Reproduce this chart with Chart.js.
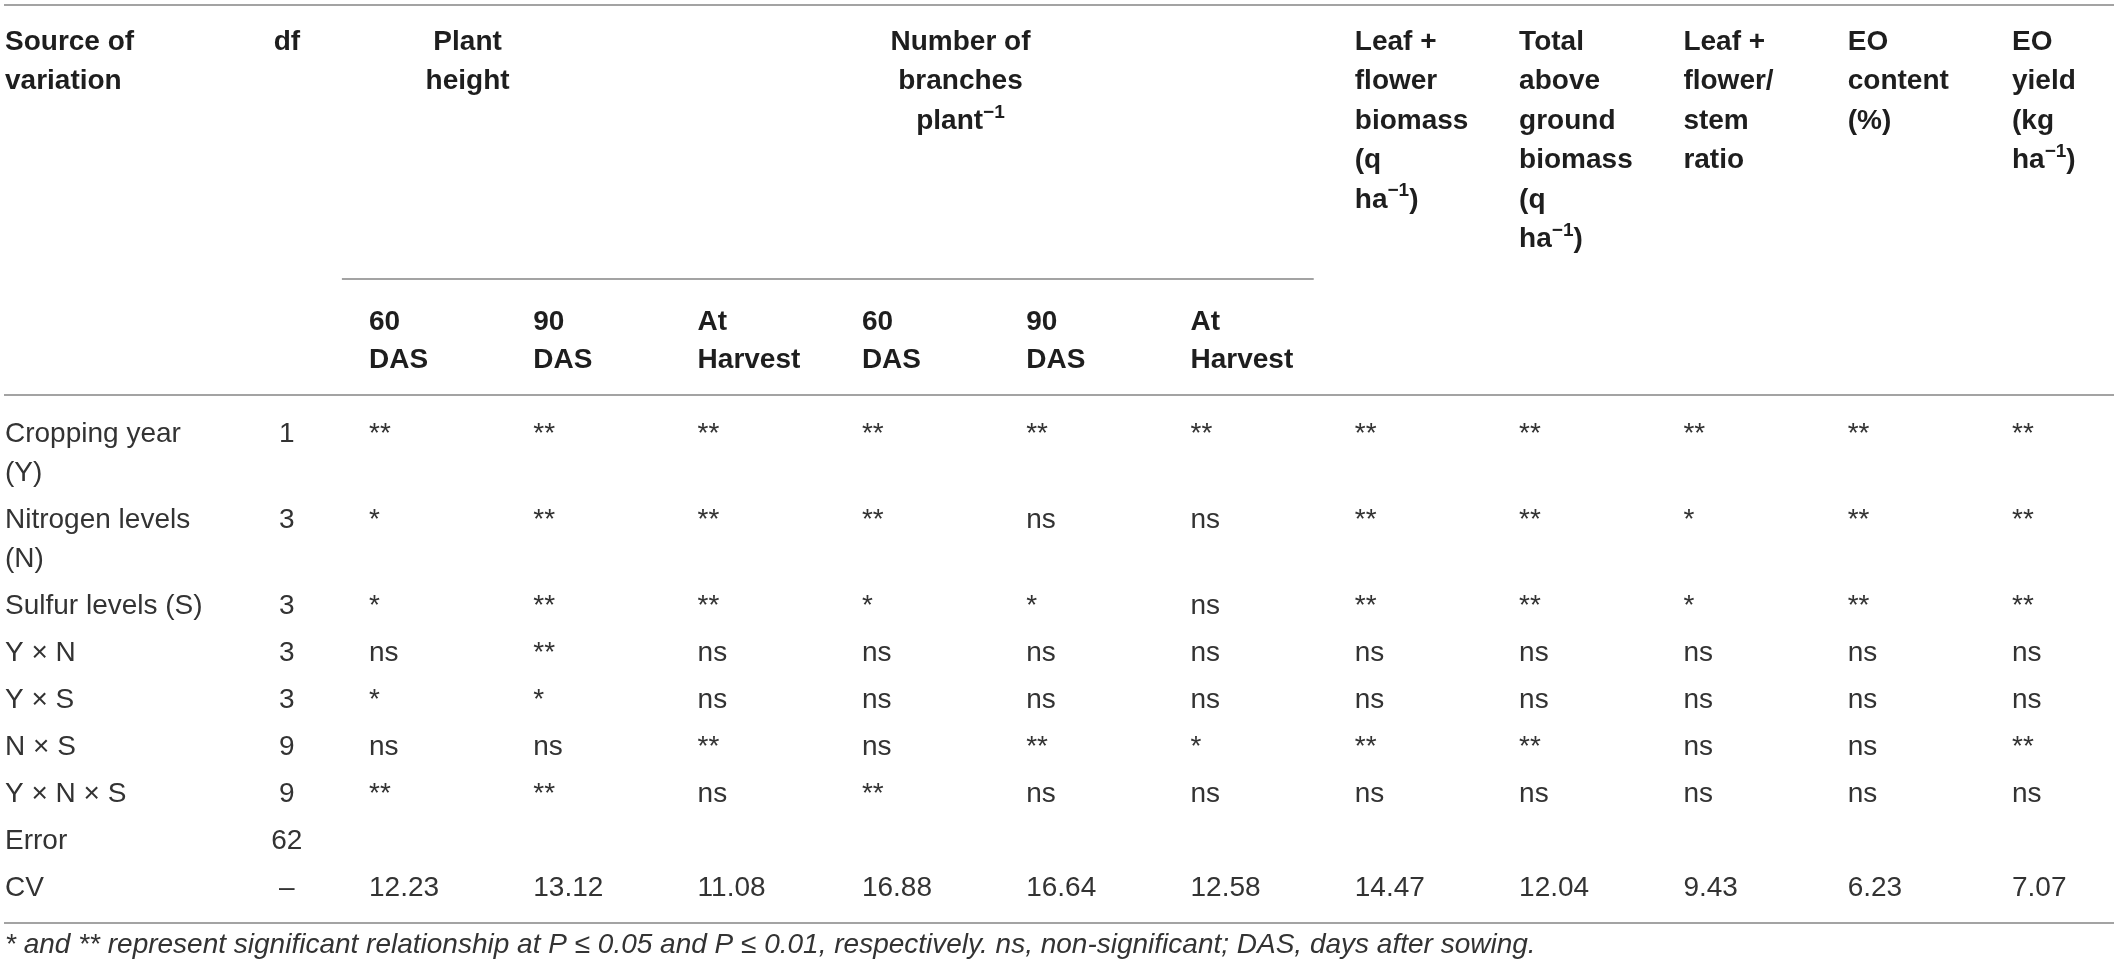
<!DOCTYPE html>
<html>
<head>
<meta charset="utf-8">
<script src="https://cdn.jsdelivr.net/npm/chart.js@4"></script>
<style>
  html, body { margin: 0; padding: 0; background: #fff; }
  #caixa { width: 2118px; height: 972px; position: relative; }
</style>
</head>
<body>
<div id="caixa"><canvas id="tabela"></canvas></div>
<script>
// linhas da tabela: fonte de variacao e graus de liberdade
var fontes = [['Cropping year', '(Y)'], ['Nitrogen levels', '(N)'], ['Sulfur levels (S)'], ['Y × N'], ['Y × S'], ['N × S'], ['Y × N × S'], ['Error'], ['CV']];
var gl = ['1', '3', '3', '3', '3', '9', '9', '62', '–'];

// cabecalhos ({...} = expoente)
var grupos = [['Plant', 'height'], ['Number of', 'branches', 'plant{−1}']];
var subColunas = [['60', 'DAS'], ['90', 'DAS'], ['At', 'Harvest'], ['60', 'DAS'], ['90', 'DAS'], ['At', 'Harvest']];
var outrasColunas = [
  ['Leaf +', 'flower', 'biomass', '(q', 'ha{−1})'],
  ['Total', 'above', 'ground', 'biomass', '(q', 'ha{−1})'],
  ['Leaf +', 'flower/', 'stem', 'ratio'],
  ['EO', 'content', '(%)'],
  ['EO', 'yield', '(kg', 'ha{−1})']
];

// significancia de cada fonte nas 11 variaveis
var anoY     = ['**', '**', '**', '**', '**', '**', '**', '**', '**', '**', '**'];
var nitrog   = ['*', '**', '**', '**', 'ns', 'ns', '**', '**', '*', '**', '**'];
var enxofre  = ['*', '**', '**', '*', '*', 'ns', '**', '**', '*', '**', '**'];
var yxn      = ['ns', '**', 'ns', 'ns', 'ns', 'ns', 'ns', 'ns', 'ns', 'ns', 'ns'];
var yxs      = ['*', '*', 'ns', 'ns', 'ns', 'ns', 'ns', 'ns', 'ns', 'ns', 'ns'];
var nxs      = ['ns', 'ns', '**', 'ns', '**', '*', '**', '**', 'ns', 'ns', '**'];
var yxnxs    = ['**', '**', 'ns', '**', 'ns', 'ns', 'ns', 'ns', 'ns', 'ns', 'ns'];
var erro     = [];
var cv       = [12.23, 13.12, 11.08, 16.88, 16.64, 12.58, 14.47, 12.04, 9.43, 6.23, 7.07];

var nota = '* and ** represent significant relationship at P ≤ 0.05 and P ≤ 0.01, respectively. ns, non-significant; DAS, days after sowing.';

var valores = [anoY, nitrog, enxofre, yxn, yxs, nxs, yxnxs, erro, cv.map(function(v) { return v.toFixed(2); })];

// layout (x em unidades de coluna, y em pixels)
var PASSO = 164.3;
var X_MIN = -369 / PASSO;
var X_MAX = X_MIN + 2118 / PASSO;
var X_FONTE = X_MIN + 5 / PASSO;
var X_GL = -0.5;
var FAMILIA = '"Liberation Sans", Arial, sans-serif';
var TAM = 28;

var Y_INICIO = 442, ALT_LINHA = 39, ESPACO = 8;
var yLinha = [];
var acc = Y_INICIO;
fontes.forEach(function(f) {
  yLinha.push(acc);
  acc += f.length * ALT_LINHA + ESPACO;
});

function fonte(tam, peso, estilo) {
  return (estilo || 'normal') + ' ' + (peso || 'normal') + ' ' + tam + 'px ' + FAMILIA;
}

// texto com expoentes marcados entre chaves
function textoRico(ctx, s, x, y, peso, centro) {
  var partes = s.split(/(\{[^}]*\})/).filter(Boolean);
  var larg = 0;
  var med = partes.map(function(p) {
    var sup = p.charAt(0) === '{';
    var t = sup ? p.slice(1, -1) : p;
    ctx.font = fonte(sup ? TAM * 0.68 : TAM, peso);
    var w = ctx.measureText(t).width;
    larg += w;
    return { t: t, sup: sup, w: w };
  });
  var px = centro ? x - larg / 2 : x;
  med.forEach(function(m) {
    ctx.font = fonte(m.sup ? TAM * 0.68 : TAM, peso);
    ctx.fillText(m.t, px, m.sup ? y - TAM * 0.4 : y);
    px += m.w;
  });
}

var pluginTabela = {
  id: 'tabela',
  afterDatasetsDraw: function(chart) {
    var ctx = chart.ctx, sx = chart.scales.x, sy = chart.scales.y;
    ctx.save();
    ctx.textAlign = 'left';
    ctx.textBaseline = 'alphabetic';

    // filetes
    ctx.strokeStyle = '#a3a3a3';
    ctx.lineWidth = 2;
    function filete(y, x0, x1) {
      ctx.beginPath();
      ctx.moveTo(sx.getPixelForValue(x0), sy.getPixelForValue(y));
      ctx.lineTo(sx.getPixelForValue(x1), sy.getPixelForValue(y));
      ctx.stroke();
    }
    filete(5, X_MIN + 4 / PASSO, X_MAX - 4 / PASSO);
    filete(279, -0.165, 5.75);
    filete(395, X_MIN + 4 / PASSO, X_MAX - 4 / PASSO);
    filete(923, X_MIN + 4 / PASSO, X_MAX - 4 / PASSO);

    // cabecalho
    ctx.fillStyle = '#1e1e1e';
    var H0 = 50, HL = 39.4;
    ['Source of', 'variation'].forEach(function(t, k) {
      textoRico(ctx, t, sx.getPixelForValue(X_FONTE), sy.getPixelForValue(H0 + k * HL), 'bold', false);
    });
    textoRico(ctx, 'df', sx.getPixelForValue(X_GL), sy.getPixelForValue(H0), 'bold', true);
    grupos.forEach(function(g, gi) {
      g.forEach(function(t, k) {
        textoRico(ctx, t, sx.getPixelForValue(gi * 3 + 0.6), sy.getPixelForValue(H0 + k * HL), 'bold', true);
      });
    });
    outrasColunas.forEach(function(c, ci) {
      c.forEach(function(t, k) {
        textoRico(ctx, t, sx.getPixelForValue(6 + ci), sy.getPixelForValue(H0 + k * HL), 'bold', false);
      });
    });
    subColunas.forEach(function(c, ci) {
      c.forEach(function(t, k) {
        textoRico(ctx, t, sx.getPixelForValue(ci), sy.getPixelForValue(330 + k * 38), 'bold', false);
      });
    });

    // corpo
    ctx.fillStyle = '#333';
    fontes.forEach(function(f, r) {
      f.forEach(function(t, k) {
        textoRico(ctx, t, sx.getPixelForValue(X_FONTE), sy.getPixelForValue(yLinha[r] + k * ALT_LINHA), 'normal', false);
      });
      textoRico(ctx, gl[r], sx.getPixelForValue(X_GL), sy.getPixelForValue(yLinha[r]), 'normal', true);
    });
    chart.data.datasets.forEach(function(ds, d) {
      var meta = chart.getDatasetMeta(d);
      meta.data.forEach(function(el, i) {
        textoRico(ctx, valores[d][i], el.x, el.y, 'normal', false);
      });
    });

    // nota de rodape
    ctx.font = fonte(TAM, 'normal', 'italic');
    ctx.fillText(nota, sx.getPixelForValue(X_FONTE), sy.getPixelForValue(953));
    ctx.restore();
  }
};

var datasets = valores.map(function(linha, r) {
  return {
    label: fontes[r].join(' '),
    data: linha.map(function(v, i) { return { x: i, y: yLinha[r] }; }),
    pointRadius: 0,
    showLine: false
  };
});

var grafico = new Chart(document.getElementById('tabela'), {
  type: 'scatter',
  data: { datasets: datasets },
  options: {
    responsive: true,
    maintainAspectRatio: false,
    animation: false,
    events: [],
    layout: { padding: 0 },
    plugins: { legend: { display: false }, tooltip: { enabled: false } },
    scales: {
      x: { type: 'linear', display: false, min: X_MIN, max: X_MAX },
      y: { type: 'linear', display: false, reverse: true, min: 0, max: 972 }
    }
  },
  plugins: [pluginTabela]
});
</script>
</body>
</html>
